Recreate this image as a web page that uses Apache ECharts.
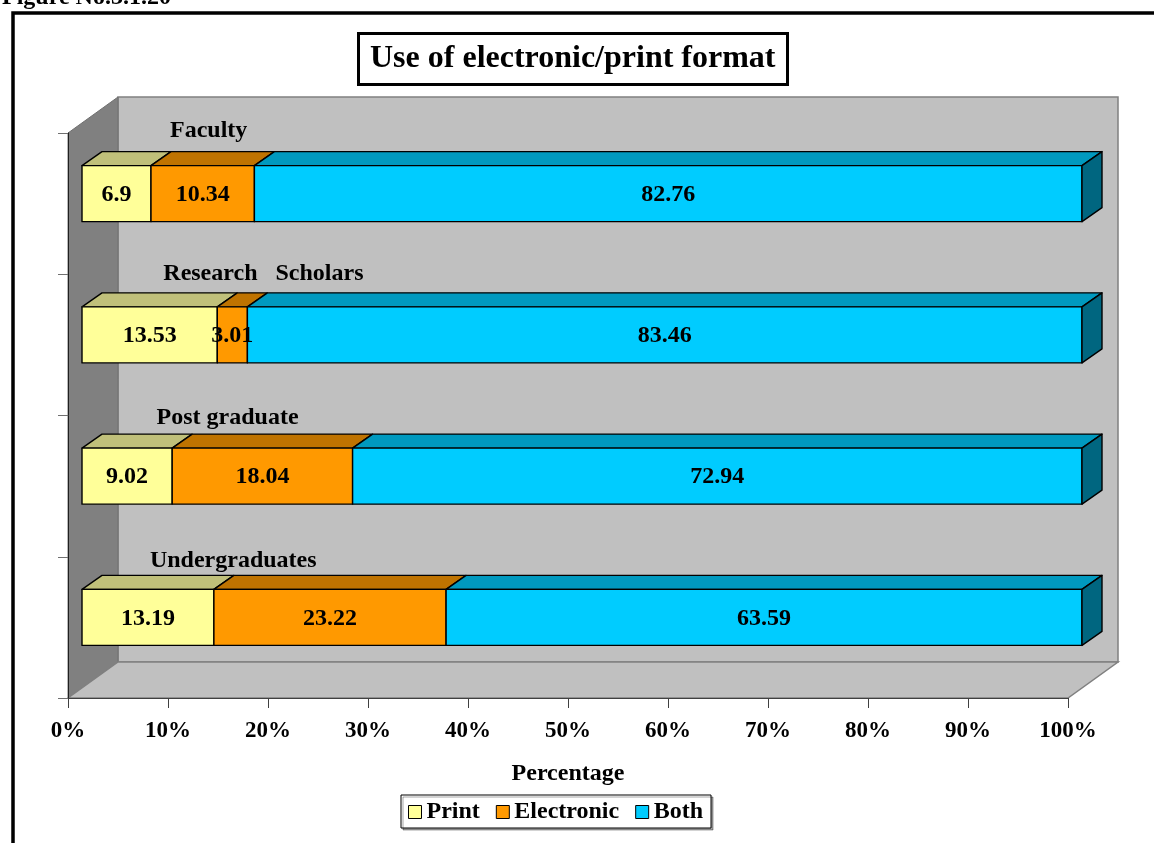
<!DOCTYPE html>
<html>
<head>
<meta charset="utf-8">
<script src="https://cdn.jsdelivr.net/npm/echarts@6/dist/echarts.min.js"></script>
<style>
  html, body { margin: 0; padding: 0; background: #fff; }
  #chart { width: 1154px; height: 843px; }
</style>
</head>
<body>
<div id="chart"></div>
<script>
// Respondent groups, top to bottom
const categories = ['Faculty', 'Research Scholars', 'Post graduate', 'Undergraduates'];
const categoryText = ['Faculty', 'Research   Scholars', 'Post graduate', 'Undergraduates'];

// Share of each format per group (%)
const printValues = [6.9, 13.53, 9.02, 13.19];
const electronicValues = [10.34, 3.01, 18.04, 23.22];
const bothValues = [82.76, 83.46, 72.94, 63.59];

const seriesNames = ['Print', 'Electronic', 'Both'];
const seriesValues = [printValues, electronicValues, bothValues];

// Face colours for the box bars: front, top, side
const frontColors = ['#FFFF99', '#FF9900', '#00CCFF'];
const topColors = ['#C0C07A', '#BF7300', '#0099BF'];
const sideColors = ['#80805A', '#805000', '#006680'];

const FONT = '"Liberation Serif", "Times New Roman", serif';

// Pseudo-3D geometry (pixels)
const WALL_DX = 50, WALL_DY = 36;   // depth of the walls
const BAR_OX = 14, BAR_OY = 10;     // bar front face set back from the front plane
const BAR_DX = 20, BAR_DY = 14;     // bar depth
const BAR_RATIO = 0.397;            // bar height relative to the category band

// Stacked segments: [start, end, categoryIndex, value]
function segmentData(s) {
  return categories.map((c, i) => {
    let start = 0;
    for (let k = 0; k < s; k++) start += seriesValues[k][i];
    const v = seriesValues[s][i];
    return [start, start + v, i, v];
  });
}

function renderWalls(params, api) {
  const cs = params.coordSys;
  const x = cs.x, y = cs.y, w = cs.width, h = cs.height;
  return {
    type: 'group',
    children: [
      { type: 'rect', shape: { x: x + WALL_DX, y: y - WALL_DY, width: w, height: h },
        style: { fill: '#C0C0C0', stroke: '#808080', lineWidth: 1.5 } },
      { type: 'polygon', shape: { points: [[x, y], [x + WALL_DX, y - WALL_DY], [x + WALL_DX, y + h - WALL_DY], [x, y + h]] },
        style: { fill: '#808080', stroke: '#707070', lineWidth: 1 } },
      { type: 'polygon', shape: { points: [[x, y + h], [x + WALL_DX, y + h - WALL_DY], [x + w + WALL_DX, y + h - WALL_DY], [x + w, y + h]] },
        style: { fill: '#C0C0C0', stroke: '#808080', lineWidth: 1.5 } }
    ]
  };
}

function renderCategoryLabel(params, api) {
  const i = api.value(1);
  const p = api.coord([0, i]);
  const band = api.size([0, 1])[1];
  const yt = p[1] - BAR_OY - band * BAR_RATIO / 2;
  return {
    type: 'text',
    style: {
      text: categoryText[i],
      x: p[0] + 102 - 6.7 * i,
      y: yt - 34.5 + 1.9 * i,
      align: 'left',
      verticalAlign: 'middle',
      font: 'bold 24px ' + FONT,
      fill: '#000'
    }
  };
}

function makeRenderBar(s) {
  return function (params, api) {
    const start = api.value(0), end = api.value(1), cat = api.value(2), v = api.value(3);
    const p0 = api.coord([start, cat]);
    const p1 = api.coord([end, cat]);
    const band = api.size([0, 1])[1];
    const h = band * BAR_RATIO;
    const x0 = p0[0] + BAR_OX, x1 = p1[0] + BAR_OX;
    const yc = p0[1] - BAR_OY;
    const yt = yc - h / 2, yb = yc + h / 2;
    const edge = { stroke: '#000', lineWidth: 1.4, lineJoin: 'round' };
    const children = [
      { type: 'polygon', shape: { points: [[x0, yt], [x0 + BAR_DX, yt - BAR_DY], [x1 + BAR_DX, yt - BAR_DY], [x1, yt]] },
        style: Object.assign({ fill: topColors[s] }, edge) },
      { type: 'rect', shape: { x: x0, y: yt, width: x1 - x0, height: h },
        style: Object.assign({ fill: frontColors[s] }, edge) }
    ];
    if (s === seriesNames.length - 1) {
      children.push({ type: 'polygon', shape: { points: [[x1, yt], [x1 + BAR_DX, yt - BAR_DY], [x1 + BAR_DX, yb - BAR_DY], [x1, yb]] },
        style: Object.assign({ fill: sideColors[s] }, edge) });
    }
    children.push({
      type: 'text', z2: 100,
      style: { text: String(v), x: (x0 + x1) / 2, y: yc + 1, align: 'center', verticalAlign: 'middle',
               font: 'bold 24px ' + FONT, fill: '#000' }
    });
    return { type: 'group', children: children };
  };
}

const chart = echarts.init(document.getElementById('chart'), null, { renderer: 'canvas' });

const barSeries = seriesNames.map((name, s) => ({
  name: name,
  type: 'custom',
  coordinateSystem: 'cartesian2d',
  z: 2,
  itemStyle: { color: frontColors[s], borderColor: '#000', borderWidth: 1 },
  encode: { x: [0, 1], y: 2 },
  renderItem: makeRenderBar(s),
  data: segmentData(s)
}));

chart.setOption({
  animation: false,
  backgroundColor: '#fff',
  title: {
    text: 'Use of electronic/print format',
    left: 358, top: 33,
    borderColor: '#000', borderWidth: 3,
    padding: [10, 12, 10, 12],
    textStyle: { fontFamily: FONT, fontWeight: 'bold', fontSize: 32, color: '#000' }
  },
  graphic: [
    { type: 'rect', shape: { x: 13, y: 13, width: 1200, height: 900 },
      style: { fill: 'none', stroke: '#000', lineWidth: 3.5 }, z: 0 },
    { type: 'text', x: 2, y: 10,
      style: { text: 'Figure No.3.1.20', font: 'bold 24px ' + FONT, fill: '#000', verticalAlign: 'bottom' } }
  ],
  legend: {
    data: seriesNames,
    left: 401, top: 795,
    icon: 'rect', itemWidth: 13, itemHeight: 13, itemGap: 16,
    padding: [5, 8, 4, 7],
    borderColor: '#000', borderWidth: 1,
    backgroundColor: '#fff',
    shadowColor: 'rgba(0,0,0,0.35)', shadowOffsetX: 2, shadowOffsetY: 2, shadowBlur: 0,
    itemStyle: { borderColor: '#000', borderWidth: 1 },
    textStyle: { fontFamily: FONT, fontWeight: 'bold', fontSize: 24, color: '#000' }
  },
  grid: { left: 68, top: 133, width: 1000, height: 565, containLabel: false },
  xAxis: {
    type: 'value', min: 0, max: 100, interval: 10, z: 3,
    name: 'Percentage', nameLocation: 'middle', nameGap: 64,
    nameTextStyle: { fontFamily: FONT, fontWeight: 'bold', fontSize: 24, color: '#000' },
    axisLine: { show: true, lineStyle: { color: '#404040', width: 1 } },
    axisTick: { show: true, length: 10, lineStyle: { color: '#404040' } },
    axisLabel: { formatter: '{value}%', margin: 22, fontFamily: FONT, fontWeight: 'bold', fontSize: 23, color: '#000' },
    splitLine: { show: false }
  },
  yAxis: {
    type: 'category', data: categories, inverse: true, z: 3,
    axisLine: { show: true, lineStyle: { color: '#202020', width: 1 } },
    axisTick: { show: true, length: 10, lineStyle: { color: '#707070' } },
    axisLabel: { show: false },
    splitLine: { show: false }
  },
  series: [
    { name: 'walls', type: 'custom', coordinateSystem: 'cartesian2d', z: 1, silent: true,
      encode: { x: 0, y: 1 }, renderItem: renderWalls, data: [[0, 0]] },
    { name: 'groups', type: 'custom', coordinateSystem: 'cartesian2d', z: 1, silent: true,
      encode: { x: 0, y: 1 }, renderItem: renderCategoryLabel, data: categories.map((c, i) => [0, i]) }
  ].concat(barSeries)
});
</script>
</body>
</html>
